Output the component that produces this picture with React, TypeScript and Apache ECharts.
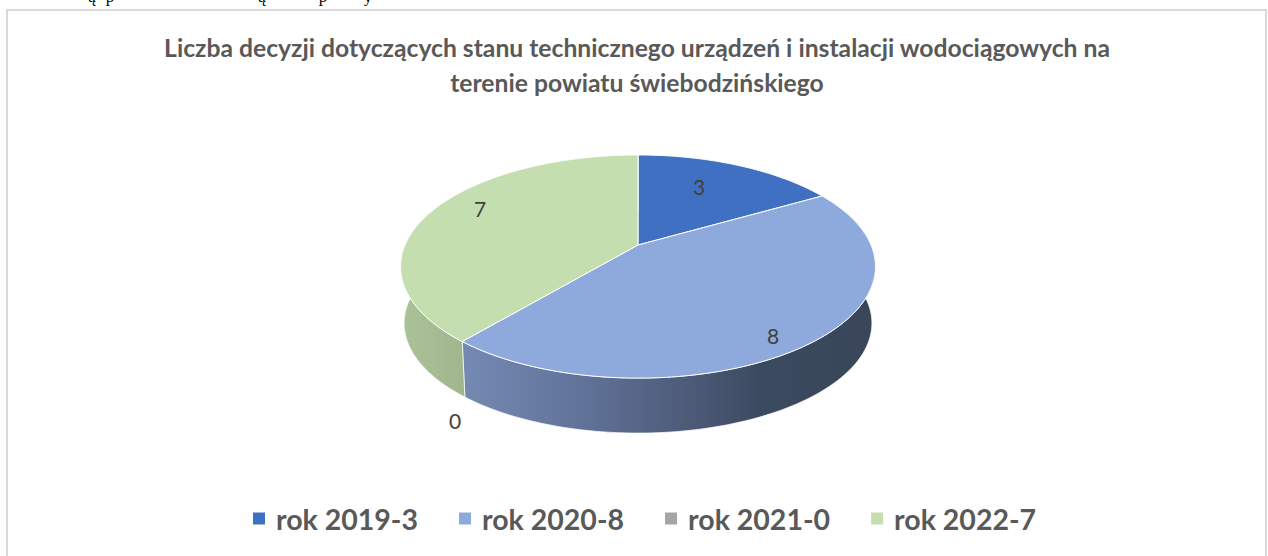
import React, { useEffect, useRef } from "react";
import * as echarts from "echarts";

const categories = ["rok 2019-3", "rok 2020-8", "rok 2021-0", "rok 2022-7"];
const values = [3, 8, 0, 7];
const sliceColors = ["#3F70C2", "#8EA9DB", "#A5A5A5", "#C5DEB0"];
const titleText =
  "Liczba decyzji dotyczących stanu technicznego urządzeń i instalacji wodociągowych na\nterenie powiatu świebodzińskiego";
// Letters of the page text above the chart, whose bottoms only are in the picture.
const clippedGlyphs = ["ą", "p", "ą", "p", "y"];
const clippedGlyphX = [92, 110, 262, 323, 368];

// Projection of the pie's disc: apex on screen, half-axes, perspective factor, extrusion.
const APEX_X = 638;
const APEX_Y = 245;
const AXIS_X = 233;
const AXIS_Y = 107.4;
const PERSPECTIVE = 0.193;
const DEPTH = 57;
const LOWER_SCALE = 0.985;
// Data label offsets from the apex, one per slice.
const labelOffsets = [
  [61, -59],
  [135, 90],
  [-183, 175.5],
  [-158, -36.5],
];

const wallGradients: any[] = [
  null,
  {
    type: "linear", x: 468, y: 0, x2: 875, y2: 0, global: true,
    colorStops: [
      { offset: 0, color: "#7489B2" },
      { offset: 0.3, color: "#5F7197" },
      { offset: 0.55, color: "#4C5A77" },
      { offset: 0.72, color: "#3B4A60" },
      { offset: 1, color: "#394658" },
    ],
  },
  null,
  {
    type: "linear", x: 402, y: 0, x2: 468, y2: 0, global: true,
    colorStops: [
      { offset: 0, color: "#ABC298" },
      { offset: 1, color: "#A0B58C" },
    ],
  },
];

const total = values.reduce((a, b) => a + b, 0);
const toAngle = (v: number) => (v / total) * Math.PI * 2;

function rimPoint(theta: number, lower: boolean): number[] {
  const w = 1 + PERSPECTIVE * Math.cos(theta);
  const k = lower ? LOWER_SCALE : 1;
  const x = APEX_X + (k * AXIS_X * Math.sin(theta)) / w;
  const y = APEX_Y + (lower ? DEPTH : 0) - (k * AXIS_Y * Math.cos(theta)) / w;
  return [x, y];
}

function rimArc(a0: number, a1: number, lower: boolean): number[][] {
  const steps = Math.max(1, Math.ceil(((a1 - a0) * 180) / Math.PI));
  const pts: number[][] = [];
  for (let i = 0; i <= steps; i++) pts.push(rimPoint(a0 + ((a1 - a0) * i) / steps, lower));
  return pts;
}

function makeRenderItem(index: number) {
  return () => {
    const start = toAngle(values.slice(0, index).reduce((a, b) => a + b, 0));
    const end = start + toAngle(values[index]);
    const children: any[] = [];
    if (values[index] > 0) {
      if (wallGradients[index]) {
        children.push({
          type: "polygon",
          shape: { points: [...rimArc(start, end, false), ...rimArc(start, end, true).reverse()] },
          style: { fill: wallGradients[index], stroke: "#FFFFFF", lineWidth: 0.7 },
        });
      }
      children.push({
        type: "polygon",
        shape: { points: [[APEX_X, APEX_Y], ...rimArc(start, end, false)] },
        style: { fill: sliceColors[index], stroke: "#FFFFFF", lineWidth: 1 },
      });
    }
    return { type: "group", children };
  };
}

function makeLabelItem(index: number) {
  return () => ({
    type: "text",
    x: APEX_X + labelOffsets[index][0],
    y: APEX_Y + labelOffsets[index][1],
    z2: 100,
    style: {
      text: String(values[index]),
      fill: "#404040",
      font: "21px Lato, sans-serif",
      align: "center",
      verticalAlign: "middle",
    },
  });
}

export default function App() {
  const ref = useRef<HTMLDivElement>(null);
  useEffect(() => {
    const chart = echarts.init(ref.current!, undefined, { renderer: "svg" });
    chart.setOption({
      animation: false,
      backgroundColor: "#FFFFFF",
      title: {
        text: titleText,
        left: 632,
        top: 25,
        textAlign: "center",
        textStyle: { fontFamily: "Lato, sans-serif", fontWeight: 700, fontSize: 24.7, lineHeight: 35, color: "#595959" },
      },
      legend: {
        left: 248,
        top: 499,
        icon: "rect",
        itemWidth: 12,
        itemHeight: 12,
        itemGap: 41,
        data: categories,
        textStyle: { fontFamily: "Lato, sans-serif", fontWeight: 700, fontSize: 28.5, color: "#595959", padding: [0, 0, 0, 6] },
      },
      graphic: [
        {
          type: "rect",
          silent: true,
          shape: { x: 7, y: 10, width: 1259, height: 560 },
          style: { fill: "transparent", stroke: "#D9D9D9", lineWidth: 2 },
          z: -1,
        },
        ...clippedGlyphs.map((text, i) => ({
          type: "text",
          silent: true,
          x: clippedGlyphX[i],
          y: -4,
          style: {
            text,
            fill: "#000000",
            font: '17px "Liberation Serif", serif',
            align: "center",
            verticalAlign: "middle",
          },
        })),
      ],
      series: [
        ...categories.map((name, i) => ({
          type: "custom",
          name,
          coordinateSystem: "none",
          silent: true,
          itemStyle: { color: sliceColors[i] },
          data: [values[i]],
          renderItem: makeRenderItem(i),
          z: 2,
        })),
        ...categories.map((name, i) => ({
          type: "custom",
          name: name + " label",
          coordinateSystem: "none",
          silent: true,
          data: [values[i]],
          renderItem: makeLabelItem(i),
          z: 3,
        })),
      ],
    });
    return () => chart.dispose();
  }, []);
  return <div ref={ref} style={{ position: "absolute", left: 0, top: 0, width: 1268, height: 556 }} />;
}
